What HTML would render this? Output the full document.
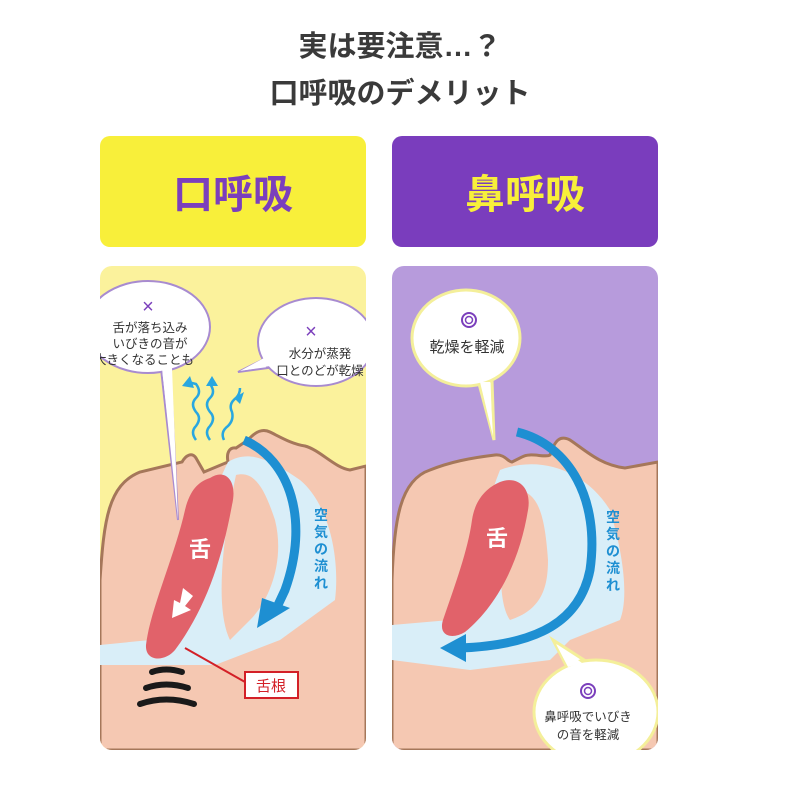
<!DOCTYPE html>
<html><head><meta charset="utf-8"><style>
body{margin:0;width:800px;height:800px;background:#fff;overflow:hidden}
svg{display:block}
text{font-family:"Liberation Sans","Noto Sans CJK JP",sans-serif}
</style></head><body>
<svg width="800" height="800" viewBox="0 0 800 800">
<defs>
<clipPath id="cl"><rect x="100" y="266" width="266" height="484" rx="12"/></clipPath>
<clipPath id="cr"><rect x="392" y="266" width="266" height="484" rx="12"/></clipPath>
</defs>
<text x="400" y="56" font-size="29" font-weight="bold" fill="#3a3a3a" text-anchor="middle">実は要注意…？</text>
<text x="400" y="103" font-size="29" font-weight="bold" fill="#3a3a3a" text-anchor="middle">口呼吸のデメリット</text>
<rect x="100" y="136" width="266" height="111" rx="10" fill="#f8ef3a"/>
<text x="233" y="208" font-size="40" font-weight="bold" fill="#7b3fbc" text-anchor="middle">口呼吸</text>
<rect x="392" y="136" width="266" height="111" rx="10" fill="#7a3dbd"/>
<text x="525" y="208" font-size="40" font-weight="bold" fill="#f8ef3a" text-anchor="middle">鼻呼吸</text>

<!-- LEFT -->
<g clip-path="url(#cl)">
<rect x="100" y="266" width="266" height="484" fill="#fbf29c"/>
<path d="M100,580 C104,520 108,485 140,472 L182,462 C186,455 192,452 196,458 L204,472 L228,462 C226,452 230,447 236,448 L248,440 C255,432 262,428 270,432 C282,438 292,444 305,446 C320,450 335,468 350,470 L366,466 L366,750 L100,750 Z" fill="#f5c8b2" stroke="#a5775a" stroke-width="3"/>
<path d="M228,462 C248,450 268,458 300,480 C330,505 340,560 335,600 L280,640 L215,665 L100,665 L100,645 L150,640 C170,610 200,520 228,462 Z" fill="#d9eef8"/>
<path d="M236,475 C255,470 265,490 275,520 C285,560 270,600 250,620 L230,640 C215,610 222,540 236,475 Z" fill="#f5c8b2"/>
<path d="M210,478 C225,468 238,480 232,505 C222,560 205,610 175,650 C165,662 145,662 146,645 C150,610 175,555 185,510 C190,490 198,482 210,478 Z" fill="#e1626a"/>
<text x="200" y="557" font-size="22" font-weight="bold" fill="#fff" text-anchor="middle">舌</text>
<path d="M183,588 L193,596 L185,606 L191,610 L172,618 L174,600 L180,603 Z" fill="#fff"/>
<path d="M244,440 C290,460 310,520 285,590 L278,605" fill="none" stroke="#1e8fd2" stroke-width="9"/>
<path d="M262,598 L290,608 L257,628 Z" fill="#1e8fd2"/>
<text font-size="14" font-weight="bold" fill="#1e8fd2"><tspan x="314" y="520">空</tspan><tspan x="314" y="537">気</tspan><tspan x="314" y="554">の</tspan><tspan x="314" y="571">流</tspan><tspan x="314" y="588">れ</tspan></text>
<g fill="none" stroke="#1a1a1a" stroke-width="6" stroke-linecap="round"><path d="M152,672 Q166,667 182,672"/><path d="M146,688 Q166,681 188,688"/><path d="M140,704 Q166,695 194,704"/></g>
<path d="M185,648 L245,682" stroke="#d32027" stroke-width="2" fill="none"/>
<rect x="245" y="672" width="53" height="26" fill="#fff" stroke="#d32027" stroke-width="2"/>
<text x="271" y="691" font-size="15" fill="#d32027" text-anchor="middle">舌根</text>
<g fill="none" stroke="#29a7e0" stroke-width="2.5"><path d="M196,440 q-6,-8 0,-14 q6,-8 0,-14 q-6,-8 0,-14 q6,-6 0,-14 L188,382"/><path d="M210,440 q-6,-8 0,-14 q6,-8 0,-14 q-6,-8 0,-14 q6,-6 0,-14"/><path d="M224,440 q-4,-8 4,-14 q6,-6 4,-14 q-4,-8 4,-14 q4,-4 4,-10"/></g>
<g fill="#29a7e0"><path d="M182,386 L190,376 L194,388Z"/><path d="M206,386 L212,376 L218,386Z"/><path d="M234,398 L244,392 L240,404Z"/></g>
<path d="M160,360 L178,520 L170,360Z" fill="#fff" stroke="#a88bd0" stroke-width="2"/>
<ellipse cx="148" cy="327" rx="62" ry="46" fill="#fff" stroke="#a88bd0" stroke-width="2"/>
<path d="M162,368 L178,520 L172,368Z" fill="#fff"/>
<text x="148" y="313" font-size="20" fill="#7b3fbc" text-anchor="middle">×</text>
<text font-size="12.5" fill="#333" text-anchor="middle"><tspan x="150" y="332">舌が落ち込み</tspan><tspan x="150" y="348">いびきの音が</tspan><tspan x="144" y="364">大きくなることも</tspan></text>
<path d="M262,360 L238,372 L268,368Z" fill="#fff" stroke="#a88bd0" stroke-width="2"/>
<ellipse cx="316" cy="342" rx="58" ry="44" fill="#fff" stroke="#a88bd0" stroke-width="2"/>
<path d="M264,358 L240,371 L270,366Z" fill="#fff"/>
<text x="311" y="338" font-size="20" fill="#7b3fbc" text-anchor="middle">×</text>
<text font-size="12.5" fill="#333" text-anchor="middle"><tspan x="320" y="358">水分が蒸発</tspan><tspan x="320" y="375">口とのどが乾燥</tspan></text>
</g>

<!-- RIGHT -->
<g clip-path="url(#cr)">
<rect x="392" y="266" width="266" height="484" fill="#b79bdc"/>
<path d="M392,580 C394,520 400,480 430,470 C450,462 470,458 495,455 C505,454 508,462 512,462 L522,457 C530,452 545,458 550,455 C555,440 560,435 570,440 C585,450 600,465 625,468 L658,462 L658,750 L392,750 Z" fill="#f5c8b2" stroke="#a5775a" stroke-width="3"/>
<path d="M500,470 C540,455 585,470 610,510 C625,560 628,600 620,620 L570,640 L550,660 L470,670 L392,660 L392,625 L450,620 C470,580 480,520 500,470 Z" fill="#d9eef8"/>
<path d="M515,490 C540,490 545,520 548,560 C548,590 540,610 510,620 C495,600 500,530 515,490 Z" fill="#f5c8b2"/>
<path d="M500,482 C518,475 532,488 528,510 C520,560 498,605 465,632 C452,640 438,636 443,620 C455,585 468,550 472,520 C475,500 486,488 500,482 Z" fill="#e1626a"/>
<text x="497" y="546" font-size="22" font-weight="bold" fill="#fff" text-anchor="middle">舌</text>
<path d="M517,432 C570,445 600,500 590,570 C580,620 540,645 460,648" fill="none" stroke="#1e8fd2" stroke-width="9"/>
<path d="M440,648 L466,634 L466,662 Z" fill="#1e8fd2"/>
<text font-size="14" font-weight="bold" fill="#1e8fd2"><tspan x="606" y="522">空</tspan><tspan x="606" y="539">気</tspan><tspan x="606" y="556">の</tspan><tspan x="606" y="573">流</tspan><tspan x="606" y="590">れ</tspan></text>
<path d="M478,380 L494,440 L492,380Z" fill="#fff" stroke="#f4ef9a" stroke-width="3"/>
<ellipse cx="466" cy="338" rx="54" ry="48" fill="#fff" stroke="#f4ef9a" stroke-width="3"/>
<path d="M480,382 L493,436 L490,382Z" fill="#fff"/>
<circle cx="469" cy="320" r="7" fill="none" stroke="#7b3fbc" stroke-width="2"/><circle cx="469" cy="320" r="3.5" fill="none" stroke="#7b3fbc" stroke-width="1.5"/>
<text x="467" y="352" font-size="15" fill="#333" text-anchor="middle">乾燥を軽減</text>
<path d="M566,665 L553,640 L584,660Z" fill="#fff" stroke="#f4ef9a" stroke-width="3"/>
<ellipse cx="596" cy="712" rx="62" ry="52" fill="#fff" stroke="#f4ef9a" stroke-width="3"/>
<path d="M568,667 L556,644 L582,663Z" fill="#fff"/>
<circle cx="588" cy="691" r="7" fill="none" stroke="#7b3fbc" stroke-width="2"/><circle cx="588" cy="691" r="3.5" fill="none" stroke="#7b3fbc" stroke-width="1.5"/>
<text font-size="12.5" fill="#333" text-anchor="middle"><tspan x="588" y="721">鼻呼吸でいびき</tspan><tspan x="588" y="739">の音を軽減</tspan></text>
</g>
</svg>
</body></html>
